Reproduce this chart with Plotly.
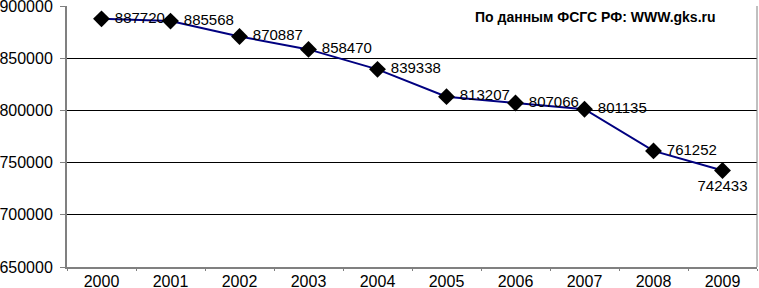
import plotly.graph_objects as go

years = ["2000", "2001", "2002", "2003", "2004", "2005", "2006", "2007", "2008", "2009"]
values = [887720, 885568, 870887, 858470, 839338, 813207, 807066, 801135, 761252, 742433]
y_ticks = [650000, 700000, 750000, 800000, 850000, 900000]
source_note = "По данным ФСГС РФ: WWW.gks.ru"

positions = ["middle right"] * (len(values) - 1) + ["bottom center"]
labels = [" " + str(v) for v in values[:-1]] + [str(values[-1])]

fig = go.Figure()
fig.add_trace(go.Scatter(
    x=years, y=values, mode="lines+markers+text",
    text=labels, textposition=positions,
    textfont=dict(family="Liberation Sans, Arial", size=15, color="black"),
    line=dict(color="#000080", width=2),
    marker=dict(symbol="diamond", size=13, color="black"),
    cliponaxis=False,
))

fig.update_layout(
    width=759, height=288,
    margin=dict(l=67, r=2, t=6, b=21),
    plot_bgcolor="white", paper_bgcolor="white",
    showlegend=False,
    font=dict(family="Liberation Sans, Arial", size=16, color="black"),
    xaxis=dict(
        type="category", showgrid=False, showline=True, linecolor="#808080", linewidth=2,
        ticks="outside", tickson="boundaries", ticklen=2, tickcolor="#808080",
        mirror=False, range=[-0.5, 9.5], automargin=False, ticklabelstandoff=-1,
        ticklabeloverflow="allow",
    ),
    yaxis=dict(
        range=[650000, 900050], tickvals=y_ticks, ticktext=[str(t) for t in y_ticks],
        showgrid=True, gridcolor="black", gridwidth=1,
        showline=True, linecolor="#808080", linewidth=2,
        ticks="outside", ticklen=5, tickcolor="#808080", zeroline=False,
        automargin=False, ticklabelstandoff=4, ticklabeloverflow="allow",
    ),
    shapes=[dict(type="line", xref="paper", yref="paper", x0=1, x1=1, y0=0, y1=1,
                 line=dict(color="#808080", width=1))],
    annotations=[dict(
        text="<b>" + source_note + "</b>", xref="paper", yref="paper",
        x=0.943, y=0.995, xanchor="right", yanchor="top", showarrow=False,
        font=dict(family="Liberation Sans, Arial", size=14, color="black"),
    )],
)

fig.write_html(
    "out.html",
    config={"displayModeBar": False},
    post_script="document.body.style.margin='0';document.body.style.overflow='hidden';",
)
